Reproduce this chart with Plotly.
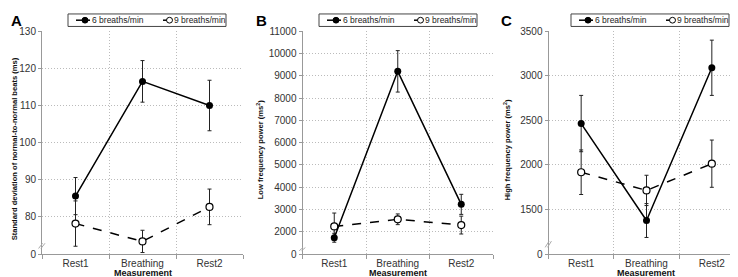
import plotly.graph_objects as go

categories = ["Rest1", "Breathing", "Rest2"]
series_names = ["6 breaths/min", "9 breaths/min"]

# Panel A: SDNN (ms)
a_6 = [85.6, 116.5, 110.0]
a_6_err = [5.0, 5.6, 6.8]
a_9 = [78.2, 73.4, 82.7]
a_9_err = [6.1, 3.0, 4.8]
a_ticks = [70, 80, 90, 100, 110, 120, 130]
a_ticktext = ["0", "80", "90", "100", "110", "120", "130"]

# Panel B: LF power (ms^2)
b_6 = [1730, 9200, 3230]
b_6_err = [200, 930, 450]
b_9 = [2240, 2560, 2300]
b_9_err = [600, 240, 400]
b_ticks = [1000, 2000, 3000, 4000, 5000, 6000, 7000, 8000, 9000, 10000, 11000]
b_ticktext = ["0", "2000", "3000", "4000", "5000", "6000", "7000", "8000", "9000", "10000", "11000"]

# Panel C: HF power (ms^2)
c_6 = [2464, 1376, 3090]
c_6_err = [316, 190, 310]
c_9 = [1918, 1714, 2014]
c_9_err = [250, 170, 265]
c_ticks = [1000, 1500, 2000, 2500, 3000, 3500]
c_ticktext = ["0", "1500", "2000", "2500", "3000", "3500"]

titles = ["Standard deviation of normal-to-normal beats (ms)",
          "Low frequency power (ms<sup>2</sup>)",
          "High frequency power (ms<sup>2</sup>)"]
letters = ["A", "B", "C"]

FONT = "Liberation Sans, Arial, sans-serif"
W, H = 738, 277
top, bot = 1 - 19 / H, 1 - 251 / H
domains = [(34 / W, 235 / W), (294.5 / W, 485 / W), (540.5 / W, 736.5 / W)]
legend_off = [0, 251, 503]

panels = [
    (a_6, a_6_err, a_9, a_9_err, a_ticks, a_ticktext),
    (b_6, b_6_err, b_9, b_9_err, b_ticks, b_ticktext),
    (c_6, c_6_err, c_9, c_9_err, c_ticks, c_ticktext),
]

fig = go.Figure()
layout = dict(
    width=W, height=H, margin=dict(l=0, r=0, t=0, b=0),
    paper_bgcolor="white", plot_bgcolor="white", showlegend=False,
    font=dict(family=FONT, size=10, color="#333"),
    annotations=[], shapes=[],
)


def px(x):
    return x / W


def py(y):
    return 1 - y / H


for i, (s6, e6, s9, e9, tv, tt) in enumerate(panels):
    n = "" if i == 0 else str(i + 1)
    xa, ya = "x" + n, "y" + n
    fig.add_trace(go.Scatter(
        x=categories, y=s9, name=series_names[1], mode="lines+markers",
        line=dict(color="black", width=1.5, dash="dash"),
        marker=dict(symbol="circle", size=7, color="white", line=dict(color="black", width=1.2)),
        error_y=dict(type="data", array=e9, color="#222", thickness=1, width=2),
        xaxis=xa, yaxis=ya, cliponaxis=False,
    ))
    fig.add_trace(go.Scatter(
        x=categories, y=s6, name=series_names[0], mode="lines+markers",
        line=dict(color="black", width=1.5),
        marker=dict(symbol="circle", size=7, color="black"),
        error_y=dict(type="data", array=e6, color="#222", thickness=1, width=2),
        xaxis=xa, yaxis=ya, cliponaxis=False,
    ))
    layout["xaxis" + n] = dict(
        domain=list(domains[i]), anchor=ya, type="category", range=[-0.5, 2.5],
        tickson="boundaries", ticks="outside", ticklen=4, tickcolor="#999",
        showgrid=True, gridcolor="#bbbbbb", griddash="1px,2px", gridwidth=1,
        showline=True, linecolor="#999", linewidth=1,
        tickfont=dict(size=10, color="#333", family=FONT),
    )
    layout["yaxis" + n] = dict(
        domain=[bot, top], anchor=xa, range=[tv[0], tv[-1]],
        tickmode="array", tickvals=tv, ticktext=tt,
        ticks="outside", ticklen=3, tickcolor="#999",
        showgrid=True, gridcolor="#bbbbbb", griddash="1px,2px", gridwidth=1,
        showline=True, linecolor="#999", linewidth=1, zeroline=False,
        tickfont=dict(size=10, color="#333", family=FONT),
    )
    dx0, dx1 = domains[i]
    cx = (dx0 + dx1) / 2
    # axis titles
    ytx = [6, 252, 499][i]
    layout["annotations"].append(dict(
        text="<b>" + titles[i] + "</b>", xref="paper", yref="paper",
        x=px(ytx), y=py(142), textangle=-90, showarrow=False, borderpad=0,
        font=dict(size=7.6, color="#111", family=FONT), xanchor="center", yanchor="middle",
    ))
    layout["annotations"].append(dict(
        text="<b>Measurement</b>", xref="paper", yref="paper",
        x=cx, y=0, showarrow=False, borderpad=0,
        font=dict(size=9, color="#111", family=FONT), xanchor="center", yanchor="bottom",
    ))
    layout["annotations"].append(dict(
        text="<b>" + letters[i] + "</b>", xref="paper", yref="paper",
        x=px([2, 247, 492][i]), y=py(8), showarrow=False, borderpad=0,
        font=dict(size=15, color="black", family=FONT), xanchor="left", yanchor="middle",
    ))
    # axis break marks
    lo, hi = tv[0], tv[1]
    yb = lo + (hi - lo) * 0.22
    for k in (0, 1):
        layout["shapes"].append(dict(
            type="line", xref=xa + " domain", yref=ya,
            x0=-0.017 + k * 0.012, x1=0.003 + k * 0.012,
            y0=yb - (hi - lo) * 0.07, y1=yb + (hi - lo) * 0.07,
            line=dict(color="#aaa", width=1),
        ))
    # legend box (manual)
    o = legend_off[i]
    layout["shapes"].append(dict(
        type="rect", xref="paper", yref="paper",
        x0=px(60 + o), x1=px(218 + o), y0=py(14), y1=py(1),
        line=dict(color="#444", width=1), fillcolor="white",
    ))
    ly = 7.5
    layout["shapes"].append(dict(
        type="line", xref="paper", yref="paper",
        x0=px(68 + o), x1=px(82 + o), y0=py(ly), y1=py(ly),
        line=dict(color="black", width=1.5),
    ))
    layout["shapes"].append(dict(
        type="circle", xref="paper", yref="paper",
        x0=px(74 + o), x1=px(80 + o), y0=py(ly + 3), y1=py(ly - 3),
        line=dict(color="black", width=1), fillcolor="black",
    ))
    layout["shapes"].append(dict(
        type="line", xref="paper", yref="paper",
        x0=px(155 + o), x1=px(167 + o), y0=py(ly), y1=py(ly),
        line=dict(color="black", width=1.5, dash="dash"),
    ))
    layout["shapes"].append(dict(
        type="circle", xref="paper", yref="paper",
        x0=px(158.5 + o), x1=px(164.5 + o), y0=py(ly + 3), y1=py(ly - 3),
        line=dict(color="black", width=1), fillcolor="white",
    ))
    layout["annotations"].append(dict(
        text=series_names[0], xref="paper", yref="paper",
        x=px(82 + o), y=py(ly), showarrow=False, xanchor="left", yanchor="middle",
        font=dict(size=8.5, color="#222", family=FONT),
    ))
    layout["annotations"].append(dict(
        text=series_names[1], xref="paper", yref="paper",
        x=px(164 + o), y=py(ly), showarrow=False, xanchor="left", yanchor="middle",
        font=dict(size=8.5, color="#222", family=FONT),
    ))

fig.update_layout(**layout)
fig.write_html("out.html")
